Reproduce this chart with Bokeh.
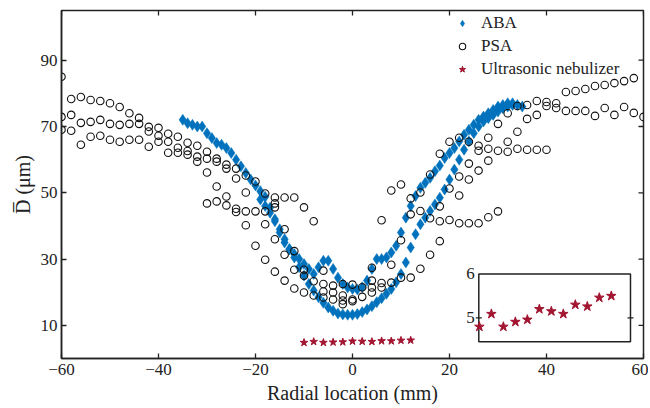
import math
from bokeh.plotting import figure
from bokeh.models import Range1d, FixedTicker, Legend, LegendItem
from bokeh.embed import file_html
from bokeh.resources import INLINE
from bokeh.core.properties import value

# ---------------- data ----------------
# ABA (two traverses)
aba1_x = [-35, -34, -33, -32, -31, -30, -29, -28, -27, -26, -25, -24, -23, -22, -21, -20, -19, -18,
          -17, -16, -15, -14, -13, -12, -11, -10, -9, -8, -7, -6, -5, -4, -3, -2, -1, 0, 1, 2, 3, 4,
          5, 6, 7, 8, 9, 10, 11, 12, 13, 14, 15, 16, 17, 18, 19, 20, 21, 22, 23, 24, 25, 26, 27, 28,
          29, 30, 31, 32, 33, 34, 35]
aba1_y = [72, 71, 70.5, 70, 70, 68, 66.5, 65, 64.5, 63.5, 62, 60, 58, 56, 54, 52.2, 50.5, 48.8,
          45.5, 42, 39, 36, 33, 30.5, 27.5, 25, 22.5, 20.5, 18.5, 16.8, 15.4, 14.4, 13.6, 13.3, 13.2, 13.2, 13.4, 14, 14.8, 15.8,
          17, 18.2, 19.5, 21, 23, 25.5, 29, 33.5, 37.5, 40.5, 42.5, 44.5, 46.5, 48.5, 51, 54, 57, 60, 63, 65.5, 68, 70, 71.5, 72.5,
          73.5, 74.5, 75.5, 76, 76.5, 76.5, 76]
aba2_x = [-19, -18, -17, -16, -15, -14, -13, -12, -11, -10, -9, -8, -7, -6, -5, -4, -3, -2, -1, 0, 1, 2,
          3, 4, 5, 6, 7, 8, 9, 10, 11, 12, 13, 14, 15, 16, 17, 18, 19, 20, 21, 22, 23, 24, 25, 26, 27, 28,
          29, 30, 31, 32, 33]
aba2_y = [48, 46, 44, 41.4, 38, 35, 33, 31.5, 30, 28.5, 27, 25.5, 27.5, 29.5, 29.5, 27, 24.4, 22.5, 21.4, 21, 20.8, 21.5,
          23.5, 27, 30, 30, 30.5, 32, 34, 38, 42.5, 46, 49, 51.5, 53, 54.5, 56.5, 58.2, 60.5, 62, 63.5, 65.5, 67.5, 69, 70.5, 72, 73, 74,
          75, 76, 76.5, 77, 77]

# PSA
psa_x = [-60, -60, -60, -58, -58, -58, -56, -56, -56, -54, -54, -54, -52, -52, -52, -50, -50, -50,
         -48, -48, -48, -46, -46, -46, -44, -44, -44, -42, -42, -42, -40, -40, -40, -38, -38, -38,
         -36, -36, -36, -34, -34, -34, -32, -32, -32, -30, -30, -30, -30, -28, -28, -28, -28,
         -26, -26, -26, -26, -24, -24, -24, -24, -22, -22, -22, -22, -20, -20, -20,
         -18, -18, -18, -18, -16, -16, -16, -16, -16, -14, -14, -14, -14, -12, -12, -12, -12,
         -10, -10, -10, -10, -8, -8, -8, -6, -6, -6, -6, -4, -4, -4, -2, -2, -2, -2, 0, 0, 0, 2, 2,
         4, 4, 4, 4, 6, 6, 6, 8, 8, 8, 10, 10, 10, 12, 12, 12, 14, 14, 14, 16, 16, 16,
         18, 18, 18, 18, 20, 20, 20, 22, 22, 22, 22, 24, 24, 24, 24, 26, 26, 26, 26, 28, 28, 28, 28,
         30, 30, 30, 32, 32, 32, 34, 34, 34, 36, 36, 36, 38, 38, 38, 40, 40, 40, 42, 42, 44, 44,
         46, 46, 48, 48, 50, 50, 52, 52, 54, 54, 56, 56, 58, 58, 60]
psa_y = [85, 72.9, 69, 78.3, 73.5, 68.7, 78.9, 71.1, 64.5, 78, 71.4, 66.9, 77.7, 72, 67.2, 77, 70.8, 66,
         75.9, 70.5, 65.4, 74, 70.8, 66, 72.6, 70.8, 66, 69.9, 68.5, 63.9, 69.6, 67.2, 65.4, 67.8, 65.4, 62.1,
         66.9, 63.6, 62.1, 65.1, 62.6, 61.5, 64.2, 60.9, 59.4, 62.4, 60.3, 56.1, 46.8, 60.3, 59.4, 51.9, 47.4,
         58.5, 57.3, 48.9, 46.2, 57.3, 54.3, 45.2, 44.2, 55.2, 50.1, 44.4, 40.2, 53.4, 44.4, 34,
         49.8, 44.4, 40.5, 29.8, 48.6, 46.8, 45.6, 36, 26.2, 48.6, 39, 31.3, 23.5, 48.6, 32.4, 26.8, 21.1,
         45.6, 26.8, 25, 19.9, 41.4, 23.3, 19, 26.5, 22.5, 20.2, 18.4, 22, 19.9, 17.8, 22.5, 19, 17.5, 16.4, 22.3, 17.8, 17.3, 21.5, 18.6,
         27.4, 23.5, 21.4, 19.9, 41.7, 22.8, 21.4, 50.7, 28.3, 22.9, 52.5, 35.7, 24.4, 48.3, 43.5, 24.4, 50.1, 44.5, 27.1, 55.5, 42.3, 31.3,
         61.8, 45.9, 41.4, 35.4, 65.4, 51.3, 41.8, 66.6, 54.9, 49.2, 40.8, 65.4, 58.8, 54, 40.8, 64.2, 62.7, 56.7, 40.8, 66.6, 63.3, 59.7, 42.6,
         70.8, 62.7, 44.4, 74, 65.4, 62.4, 76.2, 68.4, 63.3, 76.5, 72.3, 63, 77.7, 73.5, 63, 77.4, 76.2, 63, 77, 75.6, 80.4, 74.7,
         80.7, 74.7, 81.3, 74.7, 82.2, 73.2, 82.5, 75.6, 83.1, 73.5, 83.7, 75.9, 84.6, 74.1, 72.9]

# Ultrasonic nebulizer
us_x = [-10, -8, -6, -4, -2, 0, 2, 4, 6, 8, 10, 12]
us_y = [4.80, 5.09, 4.80, 4.91, 4.96, 5.20, 5.15, 5.09, 5.30, 5.26, 5.46, 5.50]

x_ticks = [-60, -40, -20, 0, 20, 40, 60]
y_ticks = [10, 30, 50, 70, 90]
inset_ticks = [5, 6]
inset_tick_labels = ["5", "6"]

BLUE = "#0072BD"
RED = "#A2142F"
INK = "#222222"
FONT = "Liberation Serif"
X0, X1, Y0, Y1 = -60, 60, 0, 105

p = figure(width=648, height=406, output_backend="svg", toolbar_location=None,
           x_range=Range1d(X0, X1), y_range=Range1d(Y0, Y1),
           min_border_left=61, min_border_right=5, min_border_top=10, min_border_bottom=45)
p.background_fill_color = "white"
p.border_fill_color = "white"
p.outline_line_color = INK
p.outline_line_width = 1.5
p.grid.visible = False

for ax in (p.xaxis[0], p.yaxis[0]):
    ax.major_tick_in = 5
    ax.major_tick_out = 0
    ax.minor_tick_in = 0
    ax.minor_tick_out = 0
    ax.axis_line_color = INK
    ax.axis_line_width = 1.5
    ax.major_tick_line_color = INK
    ax.major_tick_line_width = 1.3
    ax.major_label_text_font = FONT
    ax.major_label_text_font_size = "17px"
    ax.major_label_text_color = INK
    ax.axis_label_text_font = FONT
    ax.axis_label_text_font_size = "20px"
    ax.axis_label_text_font_style = "normal"
    ax.axis_label_text_color = INK
p.xaxis[0].ticker = FixedTicker(ticks=x_ticks)
p.yaxis[0].ticker = FixedTicker(ticks=y_ticks)
p.xaxis[0].axis_label = "Radial location (mm)"
p.xaxis[0].axis_label_standoff = 4
p.xaxis[0].major_label_standoff = 5
p.yaxis[0].axis_label = "D\u0305 (\u03bcm)"
p.yaxis[0].axis_label_standoff = 4
p.yaxis[0].major_label_standoff = 4

# mirrored inward ticks on the top and right edges (clipped to the frame)
p.scatter(x_ticks, [Y1] * len(x_ticks), marker="dash", angle=math.pi / 2, size=10,
          line_color=INK, line_width=1.3)
p.scatter([X1] * len(y_ticks), y_ticks, marker="dash", size=10, line_color=INK, line_width=1.3)

# glyphs
r_aba1 = p.scatter(aba1_x, aba1_y, marker="diamond", size=11, fill_color=BLUE, line_color=BLUE, line_width=0.5)
r_aba2 = p.scatter(aba2_x, aba2_y, marker="diamond", size=11, fill_color=BLUE, line_color=BLUE, line_width=0.5)
r_psa = p.scatter(psa_x, psa_y, marker="circle", size=7.5, fill_color=None, line_color="#111111", line_width=1.1)
r_us = p.scatter(us_x, us_y, marker="star", size=8, fill_color=RED, line_color=RED)

legend = Legend(items=[LegendItem(label="ABA", renderers=[r_aba1]),
                       LegendItem(label="PSA", renderers=[r_psa]),
                       LegendItem(label="Ultrasonic nebulizer", renderers=[r_us])],
                location=(392, 279), border_line_color=None, background_fill_alpha=0,
                label_text_font=FONT, label_text_font_size="17px", label_text_color=INK,
                glyph_width=18, glyph_height=16, label_height=16, spacing=3, padding=2, margin=0,
                label_standoff=10)
p.add_layout(legend)

# inset, drawn on its own ranges
p.extra_x_ranges = {"ix": Range1d(-79.7, 17.37)}
p.extra_y_ranges = {"iy": Range1d(4.077, 11.99)}
inset_left, inset_right, inset_bottom, inset_top = -10.1, 15.2, 4.46, 6.0
p.quad(left=[inset_left], right=[inset_right], bottom=[inset_bottom], top=[inset_top],
       fill_color="white", line_color=INK, line_width=1.5,
       x_range_name="ix", y_range_name="iy")
p.scatter(us_x, us_y, marker="star", size=10, fill_color=RED, line_color=RED,
          x_range_name="ix", y_range_name="iy")
p.text(x=[inset_left] * len(inset_ticks), y=inset_ticks, text=inset_tick_labels,
       text_align="right", text_baseline="middle", x_offset=-4,
       text_font=value(FONT), text_font_size="17px", text_color=INK,
       x_range_name="ix", y_range_name="iy")
p.scatter([inset_left, inset_right], [5, 5], marker="dash", size=6, line_color=INK, line_width=1.2,
          x_range_name="ix", y_range_name="iy")

open("out.html", "w").write(file_html(p, INLINE))
